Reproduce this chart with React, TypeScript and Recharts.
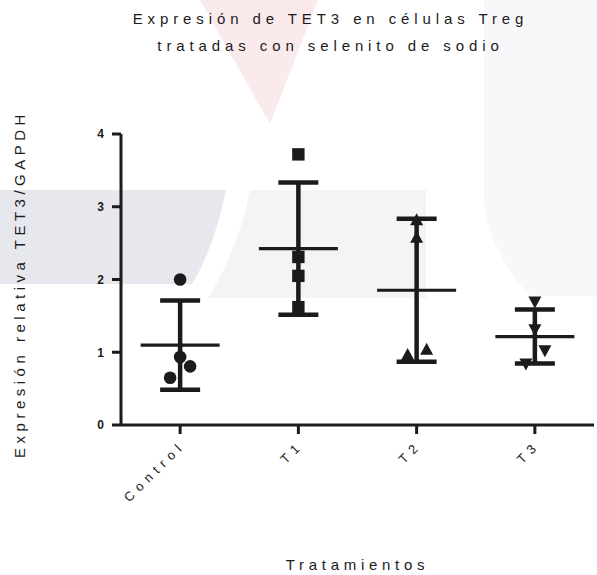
import React from 'react';
import { ComposedChart, Scatter, XAxis, YAxis, ErrorBar } from 'recharts';

// Relative TET3 expression (TET3/GAPDH) per treatment group
const groupLabels = ['Control', 'T1', 'T2', 'T3'];
const controlValues = [2.0, 0.935, 0.806, 0.65];
const t1Values = [3.72, 2.31, 2.05, 1.62];
const t2Values = [2.82, 2.58, 0.97, 1.04];
const t3Values = [1.69, 1.31, 1.02, 0.84];
const yTicks = [0, 1, 2, 3, 4];

const groupValues = [controlValues, t1Values, t2Values, t3Values];

const INK = '#1b1b1b';
const FONT = '"Liberation Sans", Arial, Helvetica, sans-serif';
const W = 597;
const H = 575;

// horizontal nudge in px so overlapping replicates stay visible
const SPREAD = [
  [0, 0, 10, -10],
  [0, 0, 0, 0],
  [0, 0, -9, 10],
  [0, 0, 10, -9],
];

const mean = (a: number[]) => a.reduce((s, v) => s + v, 0) / a.length;
const sd = (a: number[]) => {
  const m = mean(a);
  return Math.sqrt(a.reduce((s, v) => s + (v - m) ** 2, 0) / (a.length - 1));
};

const pointSets = groupValues.map((vals, g) =>
  vals.map((v, i) => ({ x: g, y: v, dx: SPREAD[g][i] }))
);

const summary = groupValues.map((vals, g) => ({ x: g, y: mean(vals), sd: sd(vals) }));

const MeanLine = (p: any) => (
  <line x1={p.cx - 39.5} x2={p.cx + 39.5} y1={p.cy} y2={p.cy} stroke={INK} strokeWidth={3.2} />
);

const Dot = (p: any) => <circle cx={p.cx + p.payload.dx} cy={p.cy} r={6.3} fill={INK} />;
const Square = (p: any) => (
  <rect x={p.cx + p.payload.dx - 6.2} y={p.cy - 6.2} width={12.4} height={12.4} fill={INK} />
);
const TriUp = (p: any) => {
  const x = p.cx + p.payload.dx;
  const y = p.cy;
  return <polygon points={`${x},${y - 6.5} ${x - 6.5},${y + 5.5} ${x + 6.5},${y + 5.5}`} fill={INK} />;
};
const TriDown = (p: any) => {
  const x = p.cx + p.payload.dx;
  const y = p.cy;
  return <polygon points={`${x},${y + 6.5} ${x - 6.5},${y - 5.5} ${x + 6.5},${y - 5.5}`} fill={INK} />;
};
const shapes = [Dot, Square, TriUp, TriDown];

const GroupTick = (p: any) => {
  const label = groupLabels[p.payload.value];
  return (
    <text
      transform={`translate(${p.x + 6},${p.y + 12}) rotate(-45)`}
      textAnchor="end"
      fontFamily={FONT}
      fontSize={13}
      letterSpacing={5.5}
      fill={INK}
    >
      {label}
    </text>
  );
};

// faint backdrop shapes behind the figure
const Backdrop = () => (
  <svg width={W} height={H} style={{ position: 'absolute', left: 0, top: 0 }}>
    <rect width={W} height={H} fill="#ffffff" />
    <polygon points="200,0 318,0 270,124" fill="#fbeaec" />
    <path d="M0,190 L226,190 Q214,248 192,284 L0,284 Z" fill="#e7e8ee" />
    <path d="M250,190 L426,190 L426,298 L208,298 Q238,250 250,190 Z" fill="#f4f4f7" />
    <path d="M484,0 L597,0 L597,296 L530,296 Q488,250 484,200 Z" fill="#f8f8fa" />
  </svg>
);

export default function App() {
  return (
    <div style={{ position: 'absolute', left: 0, top: 0, width: W, height: H }}>
      <Backdrop />
      <div style={{ position: 'absolute', left: 0, top: 0 }}>
        <ComposedChart width={W} height={H} margin={{ top: 134, right: 3, bottom: 0, left: 0 }}>
          <XAxis
            type="number"
            dataKey="x"
            domain={[-0.5, 3.5]}
            ticks={[0, 1, 2, 3]}
            height={150}
            axisLine={{ stroke: INK, strokeWidth: 3 }}
            tickLine={{ stroke: INK, strokeWidth: 3 }}
            tickSize={9}
            tickMargin={0}
            tick={<GroupTick />}
            interval={0}
          />
          <YAxis
            type="number"
            dataKey="y"
            domain={[0, 4]}
            ticks={yTicks}
            width={121}
            allowDataOverflow
            axisLine={{ stroke: INK, strokeWidth: 3 }}
            tickLine={{ stroke: INK, strokeWidth: 3 }}
            tickSize={9}
            tickMargin={8}
            tick={{ fill: INK, fontSize: 12, fontWeight: 'bold', fontFamily: FONT }}
          />
          <Scatter data={summary} shape={<MeanLine />} isAnimationActive={false}>
            <ErrorBar dataKey="sd" direction="y" width={20} strokeWidth={4.5} stroke={INK} isAnimationActive={false} />
          </Scatter>
          {pointSets.map((pts, g) => {
            const S = shapes[g];
            return <Scatter key={groupLabels[g]} data={pts} shape={<S />} isAnimationActive={false} />;
          })}
          <text x={330.5} y={23.5} textAnchor="middle" fontFamily={FONT} fontSize={15} letterSpacing={4.9} fill={INK}>
            Expresión de TET3 en células Treg
          </text>
          <text x={330.5} y={50.5} textAnchor="middle" fontFamily={FONT} fontSize={15} letterSpacing={4.9} fill={INK}>
            tratadas con selenito de sodio
          </text>
          <text
            transform="translate(25,284) rotate(-90)"
            textAnchor="middle"
            fontFamily={FONT}
            fontSize={15}
            letterSpacing={4.5}
            fill={INK}
          >
            Expresión relativa TET3/GAPDH
          </text>
          <text x={357.5} y={570} textAnchor="middle" fontFamily={FONT} fontSize={15} letterSpacing={4.7} fill={INK}>
            Tratamientos
          </text>
        </ComposedChart>
      </div>
    </div>
  );
}
